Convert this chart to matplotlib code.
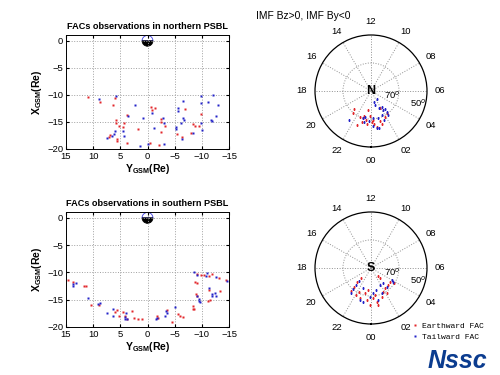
import numpy as np
import matplotlib.pyplot as plt
from matplotlib.patches import Wedge

plt.rcParams['font.family'] = ['Liberation Sans', 'DejaVu Sans']
plt.rcParams['mathtext.fontset'] = 'custom'
plt.rcParams['mathtext.bf'] = 'Liberation Sans:bold'
plt.rcParams['mathtext.rm'] = 'Liberation Sans'

RED = '#e3262b'
BLUE = '#2222c8'

# northern PSBL, GSM positions (Re)
n_red_y = [10.95, 8.8, 6.35, 6.05, 5.85, 5.85, 5.25, 4.45, 4.3, 3.83, 6.9, 7.1, 5.67, 5.55,
           3.7, 1.75, -0.59, -0.75, -1.3, -2.4, -2.55, -3.2, -2.55, -0.5, -2.1, -6.85,
           -5.5, -6.4, -8.4, -8.7, -9.5, -9.8, -8.06]
n_red_x = [-10.43, -11.36, -11.8, -10.5, -14.6, -15.2, -15.7, -15.9, -15.3, -13.8, -17.5, -17.8,
           -18.5, -18.2, -18.9, -16.3, -12.3, -12.75, -12.4, -14.4, -15.1, -15.7, -16.9, -18.9,
           -19.3, -12.6, -17.2, -17.8, -15.4, -15.7, -15.7, -13.6, -17.1]
n_blue_y = [8.9, 5.85, 2.3, 3.6, 0.83, -0.8, -1.2, -3.0, -2.9, 4.45, 6.0, 6.2, 7.4, 6.5, 4.3,
            1.4, 0.0, -3.1, -6.5, -5.6, -5.6, -6.55, -6.8, -6.2, -5.2, -5.2, -6.4, -9.9,
            -12.05, -11.1, -9.9, -13.0, -12.6, -11.6, -11.9, -9.9, -10.0, -8.4]
n_blue_x = [-10.7, -10.3, -11.8, -14.0, -14.3, -13.4, -16.1, -15.3, -14.2, -16.6, -16.6, -17.2,
            -18.0, -17.7, -17.7, -19.4, -19.1, -19.1, -11.2, -12.4, -12.9, -14.3, -14.6, -15.3,
            -16.0, -16.3, -18.1, -10.3, -10.1, -11.4, -11.5, -11.8, -14.0, -14.6, -14.8, -15.3,
            -16.5, -17.0]

# southern PSBL, GSM positions (Re)
s_red_y = [14.6, 13.65, 11.7, 11.4, 10.45, 8.9, 5.55, 5.9, 5.3, 4.45, 4.1, 3.7, 2.8, 2.5, 1.75,
           1.1, -1.8, -1.9, -3.5, -5.55, -6.0, -6.5, -4.5, -8.4, -8.4, -8.65, -9.2, -9.8,
           -10.4, -11.3, -11.9, -13.2, -14.4, -9.2, -8.75, -11.4, -13.3, -11.1, -11.5, -9.2, -8.9]
s_red_x = [-11.3, -11.8, -12.4, -12.4, -16.0, -16.0, -16.9, -17.2, -17.9, -17.3, -17.9, -18.5,
           -17.1, -18.4, -18.5, -18.5, -17.9, -18.4, -16.8, -17.7, -18.0, -18.1, -19.1, -16.1,
           -16.7, -16.7, -10.3, -10.5, -10.5, -10.7, -10.2, -11.1, -11.4, -12.0, -11.7, -13.2,
           -13.4, -15.2, -15.1, -14.4, -14.0]
s_blue_y = [13.2, 13.7, 13.8, 10.95, 8.74, 9.05, 7.4, 6.3, 6.3, 4.0, 4.1, 3.7, 4.1, -1.5, -1.7,
            -3.4, -3.5, -3.2, -5.06, -8.56, -9.05, -10.7, -12.55, -11.0, -14.7, -9.2, -9.5,
            -9.5, -9.6, -11.3, -11.8, -12.55, -11.9, -12.5]
s_blue_x = [-11.95, -12.4, -12.1, -14.75, -15.6, -15.85, -17.4, -16.7, -17.9, -17.5, -18.5, -18.6,
            -18.2, -18.6, -18.4, -17.0, -17.5, -17.9, -16.4, -10.0, -10.5, -10.6, -10.9, -10.1,
            -11.6, -14.4, -14.9, -15.2, -15.5, -12.8, -13.9, -14.3, -14.3, -13.7]

# footprints: magnetic local time (h) and latitude (deg)
n_red_mlt = [21.1, 21.4, 22.5, 22.9, 22.9, 23.0, 23.35, 23.85, 0.31, 0.38, 0.6, 1.1, 1.2, 1.9,
             2.4, 1.8, 23.5, 22.4, 0.08, 23.5]
n_red_lat = [72.3, 69.4, 63.7, 67.1, 69.6, 71.8, 69.0, 72.4, 69.2, 66.1, 64.2, 67.6, 65.0, 69.1,
             70.2, 76.1, 66.0, 69.9, 68.1, 76.3]
n_blue_mlt = [21.5, 22.9, 23.1, 0.23, 2.35, 1.7, 2.3, 2.5, 2.5, 2.4, 1.0, 1.6, 0.84, 23.1, 0.18,
              0.6, 2.2, 1.6, 23.8, 1.06, 1.05]
n_blue_lat = [63.7, 70.2, 71.2, 70.4, 83.0, 76.3, 76.5, 73.7, 71.5, 68.9, 69.8, 71.3, 62.7, 67.4,
              65.2, 63.0, 73.8, 67.3, 68.5, 79.6, 82.0]
s_red_mlt = [20.9, 21.1, 21.2, 21.3, 22.1, 22.7, 22.2, 23.1, 23.5, 23.5, 0.56, 0.64, 0.75, 1.36,
             1.8, 2.3, 2.7, 2.9, 3.6, 3.75, 3.0, 2.1, 0.2, 23.9]
s_red_lat = [79.9, 75.9, 72.0, 68.5, 68.2, 67.0, 70.4, 71.4, 74.2, 66.9, 70.5, 65.6, 63.1, 68.2,
             70.9, 72.4, 80.2, 82.4, 73.3, 70.3, 72.7, 68.7, 68.8, 63.6]
s_blue_mlt = [21.2, 21.2, 21.25, 21.4, 22.7, 23.1, 22.6, 0.35, 0.85, 1.86, 2.6, 2.67, 4.0, 3.77,
              1.5, 23.87, 0.86]
s_blue_lat = [77.5, 73.8, 70.1, 66.8, 65.7, 65.2, 74.5, 71.8, 73.9, 76.3, 76.0, 72.6, 72.9, 71.5,
              70.4, 69.5, 66.6]

mlt_labels = ['00', '02', '04', '06', '08', '10', '12', '14', '16', '18', '20', '22']
earth_r = 1.0

fig = plt.figure(figsize=(5, 3.75), dpi=100)


def gsm_panel(rect, yy, xx, by, bx, title):
    ax = fig.add_axes(rect)
    ax.plot(yy, xx, 's', ms=1.6, color=RED, mec='none')
    ax.plot(by, bx, 's', ms=1.6, color=BLUE, mec='none')
    ax.add_patch(Wedge((0, 0), earth_r, 0, 180, facecolor='white', edgecolor='#3a3ae0', lw=0.6))
    ax.add_patch(Wedge((0, 0), earth_r, 180, 360, facecolor='black', edgecolor='black', lw=0.6))
    ax.set_xlim(15, -15)
    ax.set_ylim(-20, 1.1)
    ax.set_xticks([15, 10, 5, 0, -5, -10, -15])
    ax.set_yticks([0, -5, -10, -15, -20])
    ax.grid(True, ls=':', color='#a0a0a0', lw=0.7)
    ax.tick_params(labelsize=6.8, direction='in', length=2, top=True, right=True, pad=2)
    ax.set_title(title, fontsize=6.6, fontweight='bold', pad=4)
    ax.set_xlabel(r'$\mathbf{Y_{GSM}(Re)}$', fontsize=7.5, labelpad=1)
    ax.set_ylabel(r'$\mathbf{X_{GSM}(Re)}$', fontsize=7.5, labelpad=2)
    for s in ax.spines.values():
        s.set_linewidth(0.7)
    return ax


def polar_panel(rect, rm, rl, bm, bl, hemi):
    ax = fig.add_axes(rect, projection='polar')
    ax.set_theta_zero_location('S')
    ax.set_theta_direction(1)
    ax.plot(np.array(rm) * np.pi / 12, 90 - np.array(rl), 's', ms=1.4, color=RED, mec='none')
    ax.plot(np.array(bm) * np.pi / 12, 90 - np.array(bl), 's', ms=1.4, color=BLUE, mec='none')
    ax.set_rlim(0, 40)
    ax.set_thetagrids(range(0, 360, 30), mlt_labels, fontsize=6.8)
    ax.set_rgrids([20], labels=[''])
    ax.grid(True, ls=':', color='#909090', lw=0.7)
    ax.tick_params(pad=-1)
    ax.spines['polar'].set_linewidth(0.9)
    ax.text(5.28 * np.pi / 12, 15.3, '70$^o$', fontsize=6.8, ha='center', va='center')
    ax.text(5.05 * np.pi / 12, 34.6, '50$^o$', fontsize=6.8, ha='center', va='center')
    ax.text(0, 0, hemi, fontsize=9, fontweight='bold', ha='center', va='center')
    return ax


gsm_panel([0.132, 0.603, 0.326, 0.304], n_red_y, n_red_x, n_blue_y, n_blue_x,
          'FACs observations in northern PSBL')
gsm_panel([0.132, 0.128, 0.326, 0.307], s_red_y, s_red_x, s_blue_y, s_blue_x,
          'FACs observations in southern PSBL')

polar_panel([0.630, 0.608, 0.224, 0.2987], n_red_mlt, n_red_lat, n_blue_mlt, n_blue_lat, 'N')
polar_panel([0.630, 0.136, 0.224, 0.2987], s_red_mlt, s_red_lat, s_blue_mlt, s_blue_lat, 'S')

fig.text(0.512, 0.957, 'IMF Bz>0, IMF By<0', fontsize=7.4, ha='left', va='center')

h1, = plt.plot([], [], 's', ms=1.6, color=RED, mec='none')
h2, = plt.plot([], [], 's', ms=1.6, color=BLUE, mec='none')
fig.legend([h1, h2], ['Earthward FAC', 'Tailward FAC'], loc='upper left',
           bbox_to_anchor=(0.812, 0.155), frameon=False, handlelength=0.8,
           handletextpad=0.5, labelspacing=0.35, borderpad=0.2,
           prop={'family': 'Liberation Mono', 'size': 5.8})

fig.text(0.915, 0.036, 'Nssc', fontsize=18, fontweight='bold', style='italic',
         color='#0b3c8f', ha='center', va='center')

plt.savefig('out.png', dpi=100)
